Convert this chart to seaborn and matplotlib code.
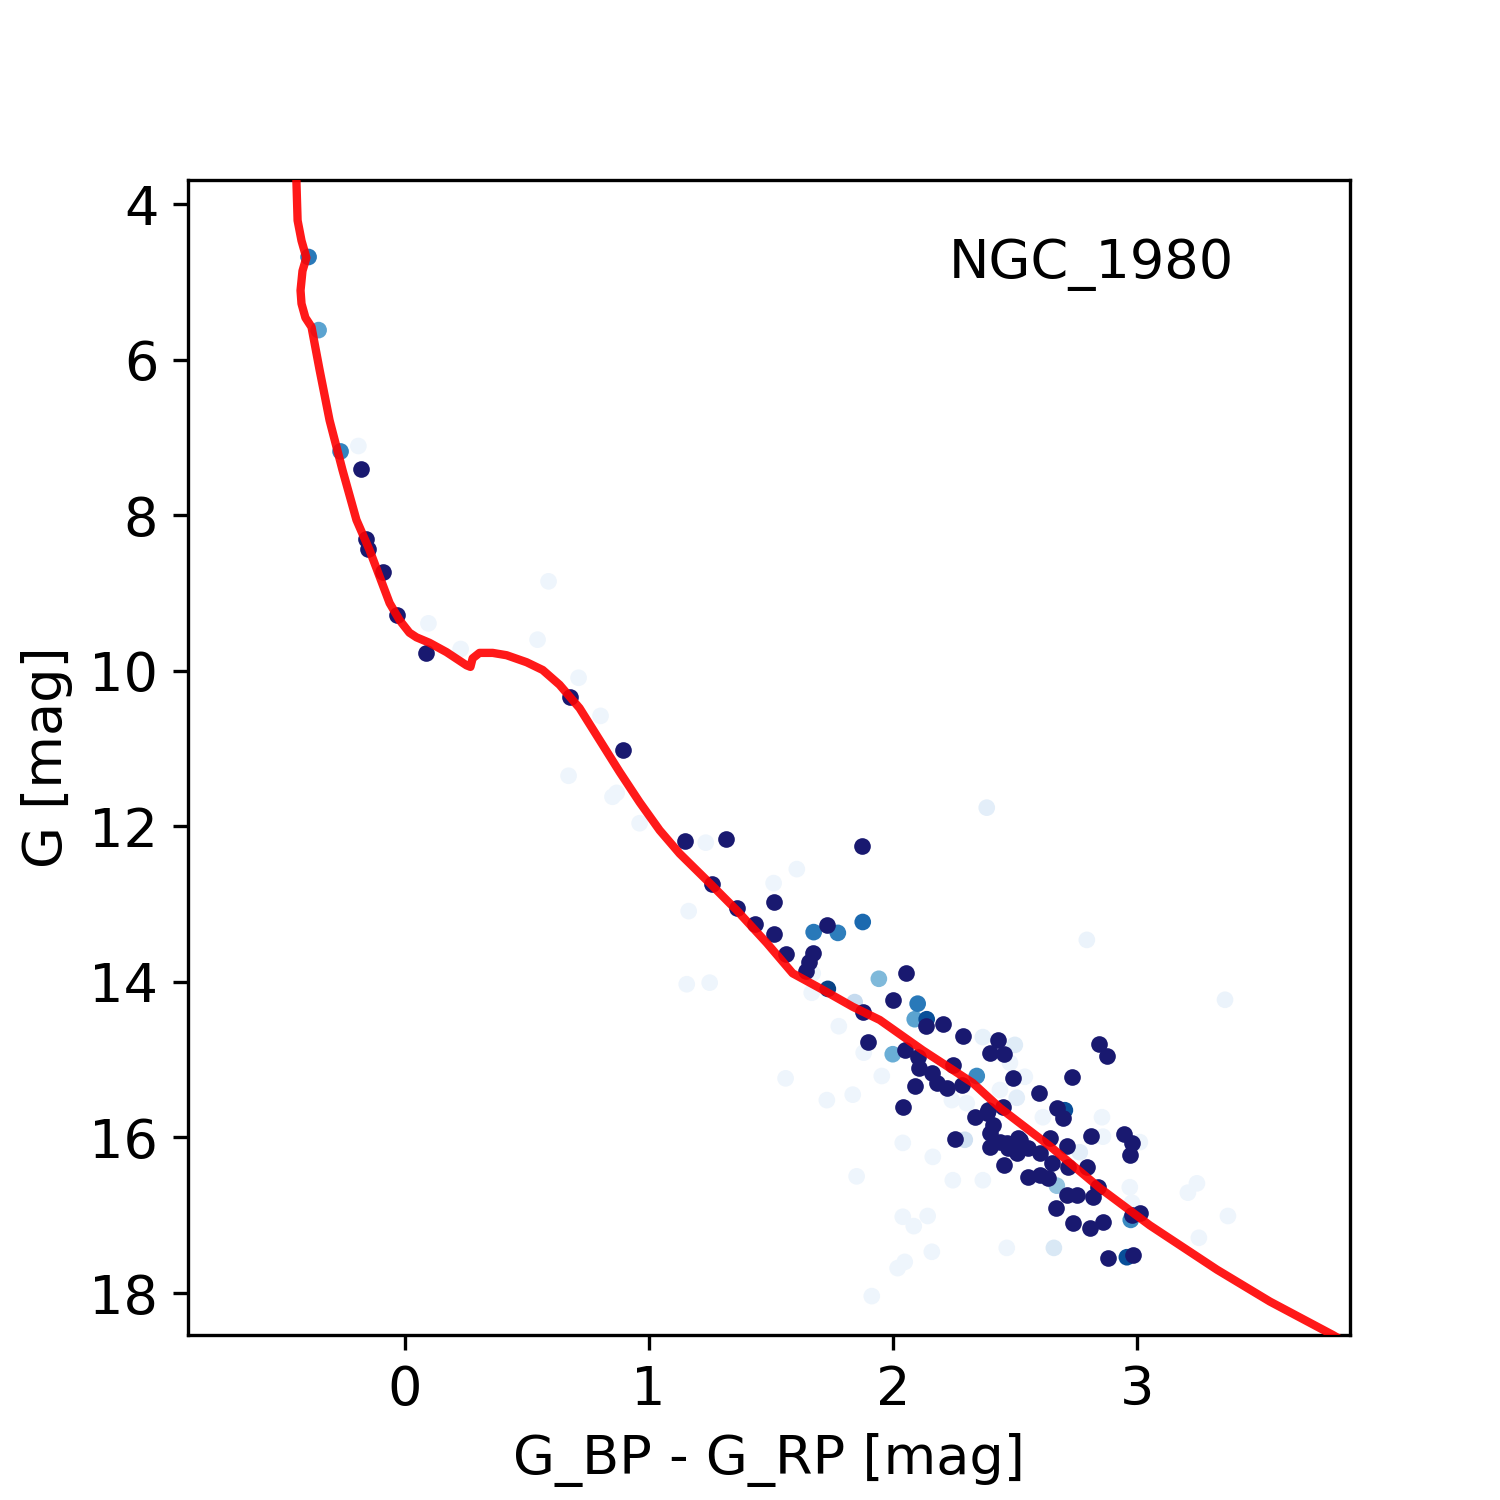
import matplotlib
matplotlib.use("Agg")
import matplotlib.pyplot as plt
import seaborn as sns
import pandas as pd
import numpy as np

plt.rcParams['font.size'] = 13
plt.rcParams['font.family'] = ['DejaVu Sans']

cluster_name = "NGC_1980"

# Isochrone (colour, magnitude)
iso_color = [-0.443, -0.438, -0.422, -0.402, -0.418, -0.426, -0.422, -0.406, -0.381, -0.348,
             -0.307, -0.254, -0.197, -0.143, -0.102, -0.061, -0.020, 0.020, 0.049, 0.102,
             0.172, 0.254, 0.270, 0.279, 0.307, 0.361, 0.418, 0.500, 0.566, 0.635,
             0.717, 0.799, 0.881, 0.963, 1.045, 1.127, 1.250, 1.361, 1.484, 1.590,
             1.701, 1.836, 1.947, 2.123, 2.328, 2.439, 2.643, 2.848, 3.053, 3.328,
             3.545, 3.803, 4.078]
iso_mag = [3.69, 4.21, 4.47, 4.69, 4.86, 5.11, 5.28, 5.46, 5.58, 6.13,
           6.78, 7.42, 8.06, 8.45, 8.79, 9.13, 9.35, 9.51, 9.57, 9.64,
           9.76, 9.93, 9.95, 9.84, 9.77, 9.77, 9.80, 9.89, 9.99, 10.18,
           10.48, 10.89, 11.30, 11.69, 12.05, 12.35, 12.73, 13.08, 13.50, 13.89,
           14.08, 14.32, 14.49, 14.88, 15.30, 15.62, 16.11, 16.65, 17.13, 17.70,
           18.11, 18.54, 19.05]

# High-probability members
mem_color = [-0.180, -0.156, -0.148, -0.090, -0.029, 0.090, 0.676, 0.893, 1.148, 1.316,
             1.873, 1.258, 1.361, 1.512, 1.434, 1.512, 1.561, 1.672, 1.656, 1.643,
             1.730, 2.053, 2.000, 1.877, 2.135, 2.205, 2.287, 1.898, 2.430, 2.398,
             2.455, 2.049, 2.102, 2.107, 2.160, 2.246, 2.090, 2.180, 2.221, 2.283,
             2.041, 2.492, 2.598, 2.336, 2.389, 2.451, 2.254, 2.398, 2.467, 2.520,
             2.734, 2.844, 2.877, 2.672, 2.697, 2.410, 2.439, 2.512, 2.553, 2.398,
             2.471, 2.508, 2.643, 2.713, 2.602, 2.652, 2.717, 2.795, 2.811, 2.947,
             2.980, 2.971, 2.455, 2.553, 2.602, 2.635, 2.713, 2.754, 2.840, 2.820,
             2.668, 2.738, 2.807, 2.861, 2.980, 3.012, 2.881, 2.984, 2.385]
mem_mag = [7.41, 8.31, 8.44, 8.73, 9.28, 9.77, 10.34, 11.02, 12.19, 12.16,
           12.25, 12.74, 13.05, 12.97, 13.26, 13.38, 13.64, 13.63, 13.74, 13.86,
           13.27, 13.89, 14.23, 14.39, 14.57, 14.54, 14.70, 14.77, 14.75, 14.91,
           14.93, 14.88, 14.97, 15.11, 15.17, 15.07, 15.34, 15.30, 15.36, 15.33,
           15.61, 15.24, 15.43, 15.74, 15.65, 15.61, 16.02, 15.94, 16.07, 16.03,
           15.22, 14.80, 14.95, 15.62, 15.75, 15.84, 16.06, 16.01, 16.14, 16.12,
           16.14, 16.20, 16.01, 16.11, 16.20, 16.33, 16.38, 16.38, 15.98, 15.96,
           16.07, 16.23, 16.35, 16.51, 16.48, 16.52, 16.74, 16.74, 16.64, 16.77,
           16.91, 17.10, 17.16, 17.09, 17.00, 16.97, 17.55, 17.51, 15.69]

# Other stars with their membership probability
oth_color = [-0.393, -0.352, -0.262, 1.676, 1.775, 1.877, 1.734, 1.943, 2.102, 2.090,
             2.139, 2.000, 1.844, 2.344, 2.672, 2.975, 2.959, 2.705, 2.295, 2.660,
             2.500, 2.766, 2.369, 2.508,
             -0.189, 0.590, 0.098, 0.230, 0.545, 0.713, 0.803, 0.672, 0.852, 0.869,
             0.963, 1.234, 1.607, 1.512, 1.164, 1.156, 1.250, 1.672, 1.668, 1.779,
             1.881, 1.561, 1.955, 1.730, 1.836, 2.385, 2.795, 3.361, 2.242, 2.303,
             2.541, 2.041, 2.480, 2.439, 2.857, 2.615, 2.861, 3.012, 2.971, 2.980,
             2.467, 3.209, 3.246, 3.373, 3.254, 1.852, 2.164, 2.246, 2.369, 2.041,
             2.143, 2.086, 2.160, 2.049, 2.020, 1.914]
oth_mag = [4.68, 5.62, 7.18, 13.36, 13.37, 13.23, 14.09, 13.96, 14.28, 14.48,
           14.48, 14.93, 14.26, 15.21, 16.62, 17.06, 17.54, 15.65, 16.03, 17.42,
           14.81, 16.19, 14.71, 15.49,
           7.11, 8.85, 9.39, 9.72, 9.60, 10.09, 10.58, 11.35, 11.62, 11.57,
           11.96, 12.21, 12.55, 12.73, 13.09, 14.03, 14.01, 13.89, 14.14, 14.57,
           14.91, 15.24, 15.21, 15.52, 15.45, 11.76, 13.46, 14.23, 15.52, 15.56,
           15.22, 16.07, 15.04, 15.39, 15.74, 15.74, 15.99, 16.06, 16.64, 16.84,
           17.42, 16.71, 16.59, 17.01, 17.29, 16.50, 16.25, 16.55, 16.55, 17.02,
           17.01, 17.14, 17.47, 17.60, 17.68, 18.04]
oth_prob = [0.72, 0.55, 0.68, 0.72, 0.70, 0.78, 0.93, 0.45, 0.72, 0.55,
            0.88, 0.50, 0.25, 0.65, 0.40, 0.65, 0.88, 0.88, 0.20, 0.15,
            0.12, 0.10, 0.08, 0.10,
            0.05, 0.05, 0.05, 0.05, 0.05, 0.05, 0.05, 0.05, 0.05, 0.05,
            0.05, 0.05, 0.05, 0.05, 0.05, 0.05, 0.05, 0.05, 0.05, 0.05,
            0.05, 0.05, 0.05, 0.05, 0.05, 0.10, 0.06, 0.06, 0.05, 0.05,
            0.05, 0.05, 0.05, 0.05, 0.05, 0.05, 0.05, 0.05, 0.05, 0.05,
            0.05, 0.05, 0.05, 0.05, 0.05, 0.05, 0.05, 0.05, 0.05, 0.05,
            0.05, 0.05, 0.05, 0.05, 0.05, 0.05]

oth = pd.DataFrame({"color": oth_color, "mag": oth_mag, "prob": oth_prob}).sort_values("prob")
mem = pd.DataFrame({"color": mem_color, "mag": mem_mag})
iso = pd.DataFrame({"color": iso_color, "mag": iso_mag})

fig, ax = plt.subplots(figsize=(5, 5), dpi=300)

sns.scatterplot(data=oth, x="color", y="mag", hue="prob", palette="Blues",
                hue_norm=(0, 1), s=16, linewidth=0, legend=False, ax=ax, zorder=2)
sns.scatterplot(data=mem, x="color", y="mag", color="midnightblue",
                s=16, linewidth=0, legend=False, ax=ax, zorder=3)
sns.lineplot(data=iso, x="color", y="mag", sort=False, estimator=None,
             color="red", lw=2, alpha=0.9, ax=ax, zorder=4)

ax.set_xlim(-0.889, 3.873)
ax.set_ylim(18.54, 3.69)
ax.set_xticks([0, 1, 2, 3])
ax.set_yticks([4, 6, 8, 10, 12, 14, 16, 18])
ax.set_xlabel("G_BP - G_RP [mag]")
ax.set_ylabel("G [mag]")
ax.text(0.9, 0.915, cluster_name, transform=ax.transAxes, ha="right", va="baseline")

fig.savefig("out.png", dpi=300)
